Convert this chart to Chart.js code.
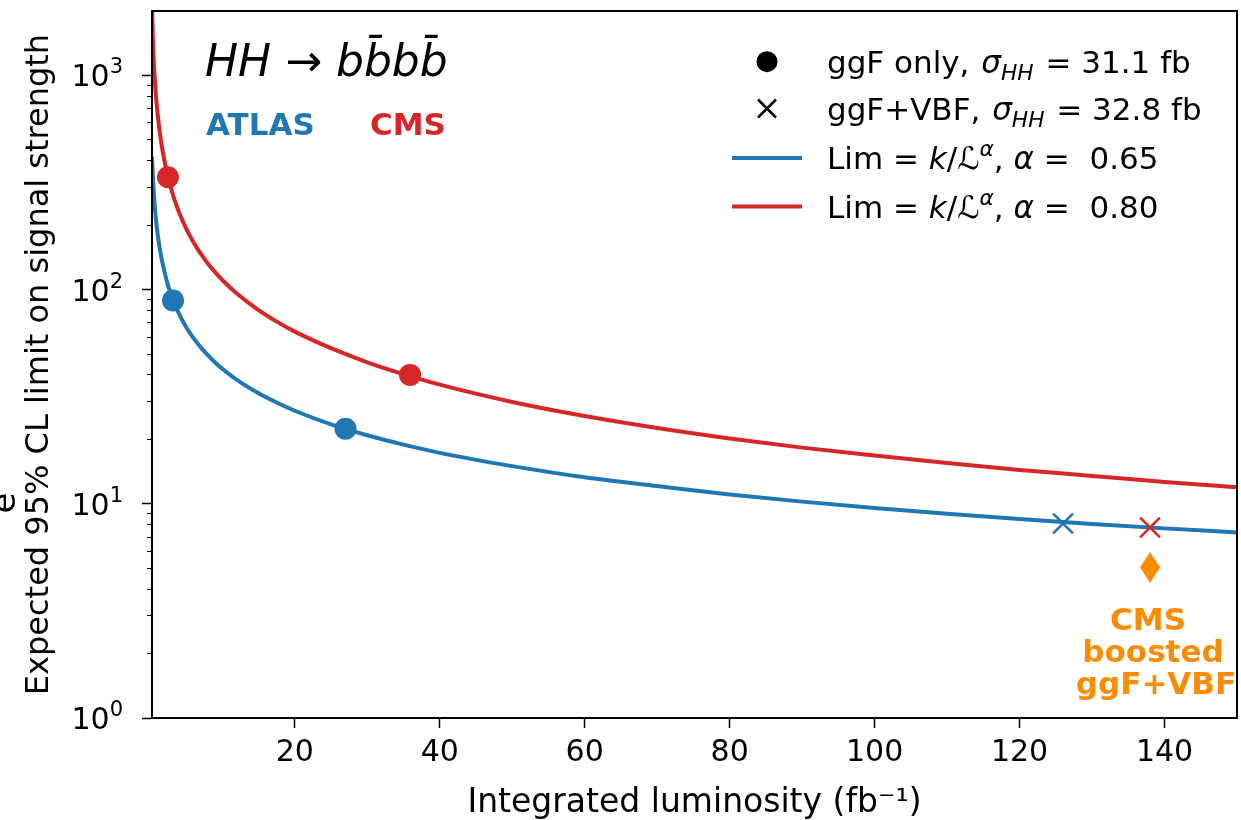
<!DOCTYPE html>
<html>
<head>
<meta charset="utf-8">
<title>HH → bbbb expected limits vs luminosity</title>
<script src="https://cdn.jsdelivr.net/npm/chart.js@4.4.1/dist/chart.umd.min.js"></script>
<style>
  html, body { margin: 0; padding: 0; background: #fff; overflow: hidden; }
  #wrap { position: relative; width: 1241px; height: 820px; }
</style>
</head>
<body>
<div id="wrap"><canvas id="chart" width="1241" height="820"></canvas></div>
<script>
const lumiGrid = [0.3, 0.4, 0.5, 0.6, 0.75, 1, 1.25, 1.5, 1.75, 2, 2.5, 3, 3.5, 4, 5, 6, 7, 8, 9, 10, 12, 15, 17.5, 20, 25, 30, 35, 40, 50, 60, 70, 80, 90, 100, 110, 120, 130, 140, 150];
const atlasCurve = [417, 346, 300, 266, 230, 191, 165, 147, 133, 122, 105, 93.4, 84.5, 77.5, 67.0, 59.5, 53.9, 49.4, 45.7, 42.7, 37.9, 32.8, 29.7, 27.2, 23.5, 20.9, 18.9, 17.3, 15.0, 13.3, 12.1, 11.05, 10.24, 9.56, 8.99, 8.49, 8.06, 7.68, 7.35];
const cmsCurve = [2150, 1550, 1250, 1065, 885, 700, 586, 506, 447, 402, 336, 291, 257, 231, 193, 167, 147.6, 132.6, 120.7, 110.9, 95.9, 80.2, 70.9, 63.7, 53.3, 45.8, 40.3, 36.0, 29.9, 25.7, 22.6, 20.2, 18.3, 16.8, 15.5, 14.4, 13.5, 12.65, 11.95];

// published results
const atlasGgfLumi = [3.2, 27];
const atlasGgfLimit = [89, 22.4];
const cmsGgfLumi = [2.5, 35.9];
const cmsGgfLimit = [335, 40];
const atlasVbfLumi = [126];
const atlasVbfLimit = [8.1];
const cmsVbfLumi = [138];
const cmsVbfLimit = [7.75];
const cmsBoostedLumi = [138];
const cmsBoostedLimit = [5.05];

// axes
const xTicks = [20, 40, 60, 80, 100, 120, 140];
const yTicks = [1, 10, 100, 1000];
const yTickBase = '10';
const yTickExp = ['0', '1', '2', '3'];

const BLUE = '#1f77b4';
const RED = '#d62728';
const ORANGE = '#ff8c00';
const FONT = '"DejaVu Sans", sans-serif';

Chart.defaults.font.family = FONT;
Chart.defaults.color = '#000';

// minor ticks 2..9 x 10^n
const yMinor = [];
for (let d = 1; d <= 100; d *= 10) {
    for (let m = 2; m <= 9; m++) yMinor.push(m * d);
}

function pts(xs, ys) {
    return xs.map((x, i) => ({x: x, y: ys[i]}));
}

// thin diamond marker (matplotlib 'd')
function thinDiamond(w, h, color) {
    const c = document.createElement('canvas');
    c.width = w;
    c.height = h;
    const g = c.getContext('2d');
    g.fillStyle = color;
    g.beginPath();
    g.moveTo(w / 2, 0);
    g.lineTo(w, h / 2);
    g.lineTo(w / 2, h);
    g.lineTo(0, h / 2);
    g.closePath();
    g.fill();
    return c;
}

// text with italic / sub / sup pieces. flags: I italic, B bold, v sub, ^ sup
function drawRich(ctx, x, y, parts, size) {
    let cx = x;
    parts.forEach(p => {
        const txt = p[0];
        const fl = p[1] || '';
        cx += p[2] || 0;
        const small = fl.indexOf('v') >= 0 || fl.indexOf('^') >= 0;
        const fs = small ? size * 0.7 : size;
        ctx.font = (fl.indexOf('I') >= 0 ? 'italic ' : '') + (fl.indexOf('B') >= 0 ? 'bold ' : '') + fs + 'px ' + FONT;
        let dy = 0;
        if (fl.indexOf('v') >= 0) dy = size * 0.22;
        if (fl.indexOf('^') >= 0) dy = -size * 0.42;
        ctx.fillText(txt, cx, y + dy);
        cx += ctx.measureText(txt).width;
    });
    return cx;
}

const annotations = {
    id: 'annotations',
    afterDraw(chart) {
        const ctx = chart.ctx;
        const area = chart.chartArea;
        ctx.save();

        // frame on top / right
        ctx.strokeStyle = '#000';
        ctx.lineWidth = 2;
        ctx.strokeRect(area.left, area.top, area.right - area.left, area.bottom - area.top);

        ctx.textAlign = 'left';
        ctx.textBaseline = 'alphabetic';
        ctx.fillStyle = '#000';

        // y tick labels as 10^n
        const ys = chart.scales.y;
        yTicks.forEach((v, i) => {
            const py = ys.getPixelForValue(v);
            ctx.font = '21px ' + FONT;
            const ew = ctx.measureText(yTickExp[i]).width;
            ctx.font = '30px ' + FONT;
            const bw = ctx.measureText(yTickBase).width;
            const right = 123;
            ctx.fillText(yTickBase, right - ew - bw, py + 11);
            ctx.font = '21px ' + FONT;
            ctx.fillText(yTickExp[i], right - ew, py - 2);
        });

        // title
        drawRich(ctx, 205, 76, [['HH', 'I'], [' → '], ['b', 'I'], ['b\u0304', 'I'], ['b', 'I'], ['b\u0304', 'I']], 44);

        ctx.font = 'bold 31px ' + FONT;
        ctx.fillStyle = BLUE;
        ctx.fillText('ATLAS', 206, 135);
        ctx.fillStyle = RED;
        ctx.fillText('CMS', 370, 135);

        // legend
        const lx = 767, tx = 827, size = 31;
        const rows = [61.7, 108.5, 158, 206.5];
        ctx.fillStyle = '#000';
        ctx.beginPath();
        ctx.arc(lx, rows[0], 10.5, 0, Math.PI * 2);
        ctx.fill();
        ctx.strokeStyle = '#000';
        ctx.lineWidth = 2.5;
        ctx.beginPath();
        ctx.moveTo(lx - 9, rows[1] - 9); ctx.lineTo(lx + 9, rows[1] + 9);
        ctx.moveTo(lx + 9, rows[1] - 9); ctx.lineTo(lx - 9, rows[1] + 9);
        ctx.stroke();
        ctx.lineWidth = 4;
        ctx.strokeStyle = BLUE;
        ctx.beginPath(); ctx.moveTo(732, rows[2]); ctx.lineTo(802, rows[2]); ctx.stroke();
        ctx.strokeStyle = RED;
        ctx.beginPath(); ctx.moveTo(732, rows[3]); ctx.lineTo(802, rows[3]); ctx.stroke();

        ctx.fillStyle = '#000';
        const off = size * 0.37;
        drawRich(ctx, tx, rows[0] + off, [['ggF only, '], ['σ', 'I', 2], ['HH', 'Iv'], [' = 31.1 fb', '', 2]], size);
        drawRich(ctx, tx, rows[1] + off, [['ggF+VBF, '], ['σ', 'I', 2], ['HH', 'Iv'], [' = 32.8 fb', '', 2]], size);
        drawRich(ctx, tx, rows[2] + off, [['Lim = '], ['k', 'I'], ['/ℒ'], ['α', 'I^'], [', '], ['α', 'I'], [' =  0.65']], size);
        drawRich(ctx, tx, rows[3] + off, [['Lim = '], ['k', 'I'], ['/ℒ'], ['α', 'I^'], [', '], ['α', 'I'], [' =  0.80']], size);

        // CMS boosted label
        ctx.fillStyle = ORANGE;
        ctx.font = 'bold 31px ' + FONT;
        ctx.textAlign = 'center';
        ctx.fillText('CMS', 1148, 630);
        ctx.fillText('boosted', 1153, 662);
        ctx.fillText('ggF+VBF', 1156, 694);

        // stray letter cut at the left edge of the original image
        ctx.fillStyle = '#000';
        ctx.translate(15, 503);
        ctx.rotate(-Math.PI / 2);
        ctx.font = '34px ' + FONT;
        ctx.fillText('e', 0, 0);

        ctx.restore();
    }
};

const lineSet = (label, ys, color) => ({
    label: label,
    data: pts(lumiGrid, ys),
    borderColor: color,
    borderWidth: 4,
    pointRadius: 0,
    fill: false,
    cubicInterpolationMode: 'monotone'
});

const markSet = (label, xs, ys, color, style, radius, bw) => ({
    label: label,
    data: pts(xs, ys),
    showLine: false,
    pointStyle: style,
    pointRadius: radius,
    pointBackgroundColor: color,
    pointBorderColor: color,
    pointBorderWidth: bw
});

new Chart(document.getElementById('chart'), {
    type: 'line',
    data: {
        datasets: [
            markSet('CMS boosted ggF+VBF', cmsBoostedLumi, cmsBoostedLimit, ORANGE, thinDiamond(20, 31, ORANGE), 10, 0),
            markSet('CMS ggF+VBF', cmsVbfLumi, cmsVbfLimit, RED, 'crossRot', 14, 2.5),
            markSet('ATLAS ggF+VBF', atlasVbfLumi, atlasVbfLimit, BLUE, 'crossRot', 14, 2.5),
            markSet('CMS ggF only', cmsGgfLumi, cmsGgfLimit, RED, 'circle', 11, 0),
            markSet('ATLAS ggF only', atlasGgfLumi, atlasGgfLimit, BLUE, 'circle', 11, 0),
            lineSet('CMS fit, alpha = 0.80', cmsCurve, RED),
            lineSet('ATLAS fit, alpha = 0.65', atlasCurve, BLUE)
        ]
    },
    options: {
        responsive: false,
        animation: false,
        devicePixelRatio: 1,
        layout: {autoPadding: false, padding: {left: 0, right: 4, top: 11, bottom: 0}},
        plugins: {
            legend: {display: false},
            tooltip: {enabled: false}
        },
        scales: {
            x: {
                type: 'linear',
                min: 0.3,
                max: 150,
                afterBuildTicks: s => { s.ticks = xTicks.map(v => ({value: v})); },
                afterFit: s => {
                    s.height = 102;
                    s.paddingLeft = 0;
                    s.paddingRight = 0;
                },
                ticks: {autoSkip: false, maxRotation: 0, padding: 7, font: {size: 30}, color: '#000'},
                grid: {drawOnChartArea: false, drawTicks: true, tickLength: 10, tickWidth: 1.5, tickColor: '#000'},
                border: {display: true, color: '#000', width: 2},
                title: {display: true, text: 'Integrated luminosity (fb⁻¹)', font: {size: 33, lineHeight: 1}, color: '#000', padding: {top: 0, bottom: 0}}
            },
            y: {
                type: 'logarithmic',
                min: 1,
                max: 2000,
                afterBuildTicks: s => {
                    s.ticks = yTicks.concat(yMinor).sort((a, b) => a - b).map(v => ({value: v}));
                },
                afterFit: s => {
                    s.width = 152;
                    s.paddingTop = 0;
                    s.paddingBottom = 0;
                },
                ticks: {
                    autoSkip: false,
                    padding: 8,
                    font: {size: 30},
                    color: '#000',
                    callback: () => ''
                },
                grid: {
                    drawOnChartArea: false,
                    drawTicks: true,
                    tickLength: 10,
                    tickColor: '#000',
                    tickWidth: c => (yTicks.indexOf(c.tick.value) >= 0 ? 1.5 : 1.2),
                    tickBorderDash: c => (yTicks.indexOf(c.tick.value) >= 0 ? [] : [0, 5, 5, 100])
                },
                border: {display: true, color: '#000', width: 2},
                title: {display: true, text: 'Expected 95% CL limit on signal strength', font: {size: 32, lineHeight: 1}, color: '#000', padding: {top: 24, bottom: 0}}
            }
        }
    },
    plugins: [annotations]
});
</script>
</body>
</html>
